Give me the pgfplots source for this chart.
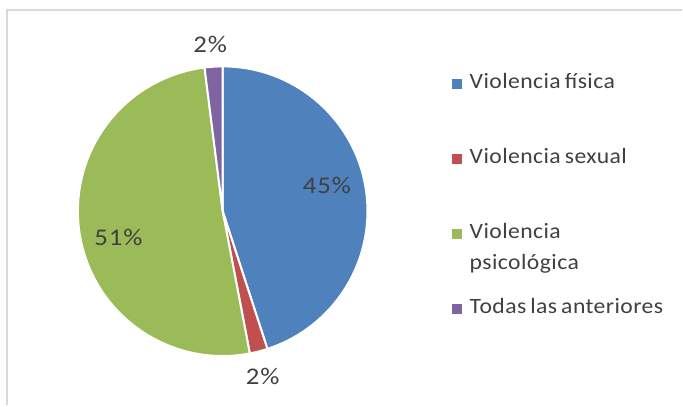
\documentclass[border=0pt]{standalone}
\usepackage{pgfplots}
\pgfplotsset{compat=1.18}
\usepackage{pgfplotstable}
\usepackage{fontspec}
\setmainfont{Carlito}
\newfontfamily\lblfont[FakeStretch=1.12, LetterSpace=4]{Carlito}
\newfontfamily\legfont[FakeStretch=1.08, LetterSpace=2, WordSpace=0.7]{Carlito}
\definecolor{cBlue}{HTML}{4F81BD}
\definecolor{cRed}{HTML}{C0504D}
\definecolor{cGreen}{HTML}{9BBB59}
\definecolor{cPurple}{HTML}{8064A2}
\definecolor{txt}{HTML}{404040}
\definecolor{frame}{HTML}{D9D9D9}

% shares in percent, clockwise from 12 o'clock
\pgfplotstableread{
value
45
2
51
2
}\piedata

\pgfplotsset{keyimg/.style={legend image code/.code={%
  \fill[#1] (0bp,-4.5bp) rectangle (9bp,4.5bp); \path (17bp,0bp);}}}

\begin{document}
\begin{tikzpicture}
\pgfplotstablegetelem{0}{value}\of\piedata \pgfmathsetmacro\aA{90-3.6*\pgfplotsretval}
\pgfplotstablegetelem{1}{value}\of\piedata \pgfmathsetmacro\aB{\aA-3.6*\pgfplotsretval}
\pgfplotstablegetelem{2}{value}\of\piedata \pgfmathsetmacro\aC{\aB-3.6*\pgfplotsretval}
\pgfplotstablegetelem{3}{value}\of\piedata \pgfmathsetmacro\aD{\aC-3.6*\pgfplotsretval}
\begin{axis}[
  scale only axis, width=683bp, height=406bp,
  xmin=0, xmax=683, ymin=0, ymax=406,
  hide axis, clip=false,
  legend cell align=left,
  legend style={draw=none, fill=none, inner sep=0pt, outer sep=0pt,
    at={(axis cs:453,333)}, anchor=north west, row sep=53bp,
    font=\legfont\fontsize{22}{31}\selectfont, text=txt,
    nodes={inner sep=0pt, text height=16bp, text depth=6bp}},
]
\path (axis cs:0,0) rectangle (axis cs:683,406);
\draw[frame, line width=2bp] (axis cs:7,0) -- (axis cs:7,396) -- (axis cs:683,396);

\fill[cBlue, draw=white, line width=2bp] (axis cs:223,194.5) -- ++(90:145bp)
  arc[start angle=90, end angle=\aA, radius=145bp] -- cycle;
\fill[cRed, draw=white, line width=2bp] (axis cs:223,194.5) -- ++(\aA:145bp)
  arc[start angle=\aA, end angle=\aB, radius=145bp] -- cycle;
\fill[cGreen, draw=white, line width=2bp] (axis cs:223,194.5) -- ++(\aB:145bp)
  arc[start angle=\aB, end angle=\aC, radius=145bp] -- cycle;
\fill[cPurple, draw=white, line width=2bp] (axis cs:223,194.5) -- ++(\aC:145bp)
  arc[start angle=\aC, end angle=\aD, radius=145bp] -- cycle;

\begin{scope}[every node/.style={text=txt, font=\lblfont\fontsize{24}{28}\selectfont}]
\node at (axis cs:327.5,220) {45\%};
\node at (axis cs:118.5,168.5) {51\%};
\node at (axis cs:210.5,361) {2\%};
\node at (axis cs:263,29) {2\%};
\end{scope}

\addlegendimage{keyimg=cBlue}\addlegendentry{Violencia física}
\addlegendimage{keyimg=cRed}\addlegendentry{Violencia sexual}
\addlegendimage{keyimg=cGreen}\addlegendentry{\rlap{\raisebox{-31bp}[0pt][0pt]{psicológica}}Violencia}
\addlegendimage{keyimg=cPurple}\addlegendentry{Todas las anteriores}
\end{axis}
\end{tikzpicture}
\end{document}
